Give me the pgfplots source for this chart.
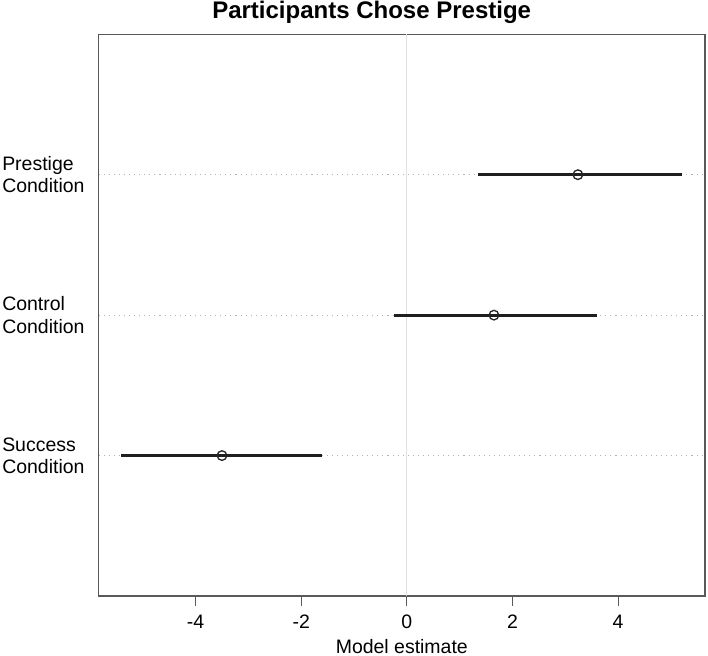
\documentclass[border=0pt]{standalone}
\usepackage{fontspec}
\setmainfont{Liberation Sans}
\usepackage{pgfplots}
\usepackage{pgfplotstable}
\pgfplotsset{compat=1.18}

% estimate and interval ends, one row per condition
\pgfplotstableread{
y est lo hi
3 3.24 1.34 5.22
2 1.65 -0.24 3.61
1 -3.50 -5.41 -1.60
}\estimates

\begin{document}
\begin{tikzpicture}
\path[use as bounding box] (-74pt,-45pt) rectangle (457pt,447pt);
\begin{axis}[
    scale only axis,
    width=454.7pt, height=421.3pt,
    at={(0,0)}, anchor=south west,
    xmin=-5.835, xmax=5.645, ymin=0, ymax=4,
    axis line style={draw=black!65, line width=1.1pt},
    xtick={-4,-2,0,2,4},
    xticklabels={-4,-2,0,2,4},
    xtick pos=bottom, tick align=outside,
    major tick length=7.5pt,
    x tick style={draw=black!65, line width=0.8pt},
    ytick={1,2,3},
    yticklabels={{Success\\Condition},{Control\\Condition},{Prestige\\Condition}},
    y tick style={draw=none},
    ymajorgrids,
    y grid style={black!30, line width=0.8pt, dash pattern=on 0.8pt off 3pt},
    yticklabel style={align=left, anchor=west, inner sep=0pt, xshift=-65pt,
        font=\fontsize{14.6}{16.7}\selectfont},
    xticklabel style={anchor=base, inner sep=0pt, yshift=-17pt,
        font=\fontsize{14.6}{16.7}\selectfont},
    xlabel={Model estimate},
    xlabel style={at={(0.5,0)}, anchor=base, inner sep=0pt, yshift=-43pt,
        font=\fontsize{14.6}{16.7}\selectfont},
    title={Participants Chose Prestige},
    title style={at={(0.4503,1)}, anchor=base, inner sep=0pt, yshift=6pt,
        font=\bfseries\fontsize{18}{20}\selectfont},
]
\draw[black!12, line width=1pt] (axis cs:0,0) -- (axis cs:0,4);
% intervals
\addplot[black!88, line width=2.2pt, mark=none] coordinates {(1.34,3) (5.22,3)};
\addplot[black!88, line width=2.2pt, mark=none] coordinates {(-0.24,2) (3.61,2)};
\addplot[black!88, line width=2.2pt, mark=none] coordinates {(-5.41,1) (-1.60,1)};
% point estimates
\addplot[only marks, mark=o, mark size=3.6pt,
    mark options={fill=white, draw=black!85, line width=1pt}]
    table[x=est, y=y] {\estimates};
\end{axis}
\end{tikzpicture}
\end{document}
